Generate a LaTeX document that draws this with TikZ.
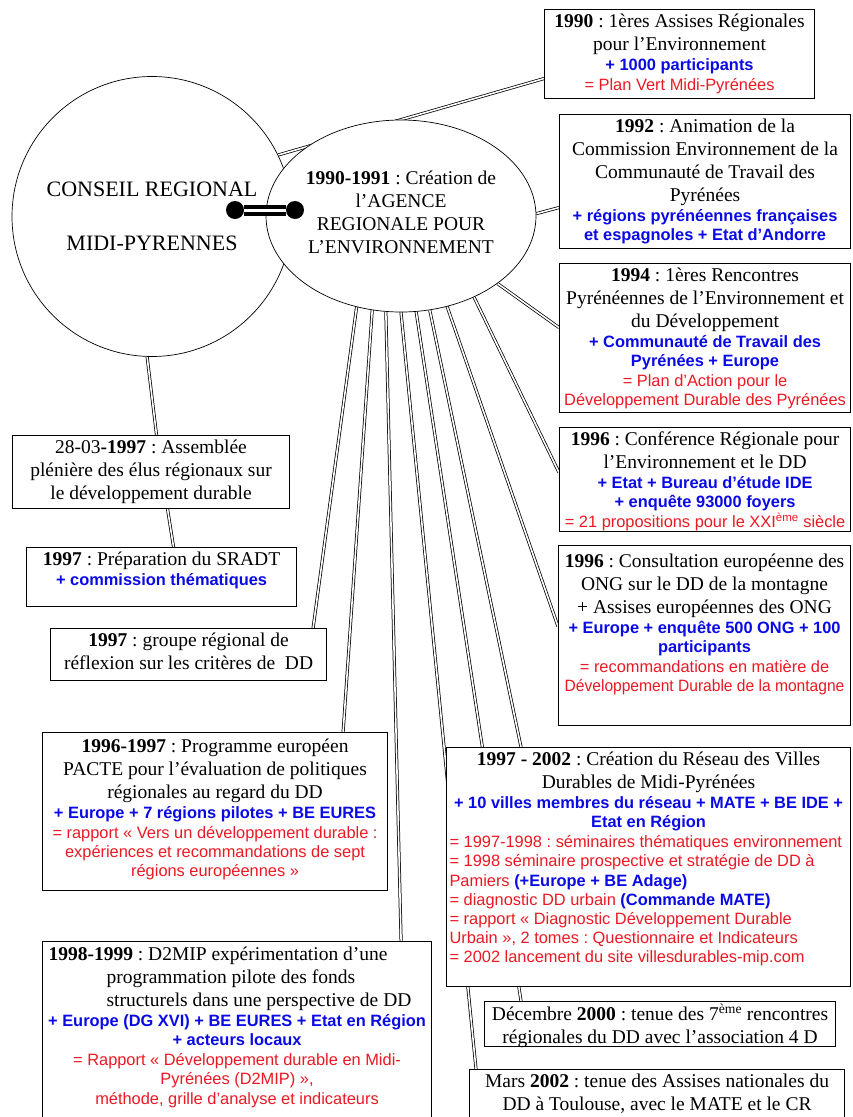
\documentclass[tikz,border=0pt]{standalone}
\usepackage{fontspec}
\setmainfont{Liberation Serif}
\setsansfont{Liberation Sans}
\usetikzlibrary{positioning,shapes,calc}
\definecolor{bleu}{RGB}{10,10,230}
\definecolor{rouge}{RGB}{235,25,35}
\pgfdeclarelayer{fond}
\pgfsetlayers{fond,main}
\frenchspacing
\newcommand{\txtser}{\fontsize{19.5}{23}\selectfont}
\newcommand{\ajout}[1]{{\par\vspace{1pt}\sffamily\bfseries\fontsize{16.4}{19.2}\selectfont\color{bleu}#1\par}}
\newcommand{\resultat}[1]{{\par\vspace{1pt}\sffamily\fontsize{16.4}{19.2}\selectfont\color{rouge}#1\par}}
\newcommand{\contenu}[4][4]{\parbox[t][#3pt][t]{#2pt}{\centering\vspace*{#1pt}#4}}

\begin{document}
\begin{tikzpicture}[x=1pt,y=-1pt,
    boite/.style={draw, fill=white, line width=1.1pt, inner xsep=3pt, inner ysep=0pt, anchor=north west, font=\txtser},
    lien/.style={double, double distance=1.6pt, line width=0.75pt},
    barre/.style={double, double distance=3pt, line width=4pt},
    point/.style={circle, fill=black, minimum size=18pt, inner sep=0pt}]
      \useasboundingbox (0,0) rectangle (852,1117);
      \node (cr) [circle, draw, line width=0.7pt, minimum size=280pt, inner sep=0pt, align=center, font=\fontsize{22}{26}\selectfont] at (152,216.5) {CONSEIL REGIONAL\\[28pt]MIDI-PYRENNES};
      \node (ard) [ellipse, draw, fill=white, line width=0.7pt, minimum width=270pt, minimum height=192pt, inner sep=0pt] at (401,216) {};
      \node (ardtxt) [align=center, font=\txtser] at (401,212) {\textbf{1990-1991} : Création de\\ l’AGENCE\\ REGIONALE POUR\\ L’ENVIRONNEMENT};
      \node (dcr) [point] at (235,210) {};
      \node (dard) [point] at (295,210) {};
      \draw[barre] (dcr) -- (dard);

      \node[boite] (b1990) at (544,9) {\contenu{264}{89}{\textbf{1990} : 1ères Assises Régionales\\ pour l’Environnement\ajout{+ 1000 participants}\resultat{= Plan Vert Midi-Pyrénées}}};
      \node[boite] (b1992) at (559,114) {\contenu{285}{134}{\textbf{1992} : Animation de la\\ Commission Environnement de la\\ Communauté de Travail des\\ Pyrénées\ajout{+ régions pyrénéennes françaises\\ et espagnoles + Etat d’Andorre}}};
      \node[boite] (b1994) at (559,263) {\contenu{285}{149}{\textbf{1994} : 1ères Rencontres\\ \mbox{Pyrénéennes de l’Environnement et}\\ du Développement\ajout{+ Communauté de Travail des\\ Pyrénées + Europe}\resultat{= Plan d’Action pour le\\ \mbox{Développement Durable des Pyrénées}}}};
      \node[boite] (b1996a) at (559,427) {\contenu{285}{104}{\textbf{1996} : Conférence Régionale pour\\ l’Environnement et le DD\ajout{+ Etat + Bureau d’étude IDE\\ + enquête 93000 foyers}\resultat{\mbox{= 21 propositions pour le XXI\textsuperscript{ème} siècle}}}};
      \node[boite] (b1996b) at (558,545) {\contenu[8]{286}{180}{\mbox{\textbf{1996} : Consultation européenne des}\\ ONG sur le DD de la montagne\\ + Assises européennes des ONG\ajout{+ Europe + enquête 500 ONG + 100\\ participants}\resultat{= recommandations en matière de\\ \mbox{\scalebox{0.95}[1]{Développement Durable de la montagne}}}}};
      \node[boite] (b280397) at (12,435) {\contenu{271}{73}{28-03\textbf{-1997} : Assemblée\\ plénière des élus régionaux sur\\ le développement durable}};
      \node[boite] (sradt) at (26,547) {\contenu{264}{59}{\textbf{1997} : Préparation du SRADT\ajout{+ commission thématiques}}};
      \node[boite] (groupe) at (50,628) {\contenu{270}{52}{\textbf{1997} : groupe régional de\\ réflexion sur les critères de~~DD}};
      \node[boite] (pacte) at (42,732) {\contenu[6]{339}{158}{\textbf{1996-1997} : Programme européen\\ PACTE pour l’évaluation de politiques\\ régionales au regard du DD\ajout{+ Europe + 7 régions pilotes + BE EURES}\resultat{= rapport «~Vers un développement durable :\\ expériences et recommandations de sept\\ régions européennes~»}}};
      \node[boite] (b9899) at (42,941) {\contenu[5]{383}{190}{{\raggedright\hspace*{3pt}\textbf{1998-1999} : D2MIP expérimentation d’une\\ \hspace*{61pt}programmation pilote des fonds\\ \hspace*{61pt}structurels dans une perspective de DD\par}\ajout{\mbox{+ Europe (DG XVI) + BE EURES + Etat en Région}\\ + acteurs locaux}\resultat{= Rapport «~Développement durable en Midi-\\ Pyrénées (D2MIP)~»,\\ méthode, grille d’analyse et indicateurs}}};
      \node[boite] (b2000) at (484,1001) {\contenu[2]{345}{45}{\mbox{Décembre \textbf{2000} : tenue des 7\textsuperscript{ème} rencontres}\\ régionales du DD avec l’association 4 D}};
      \node[boite] (b2002) at (469,1069) {\contenu[4]{369}{52}{Mars \textbf{2002} : tenue des Assises nationales du\\ DD à Toulouse, avec le MATE et le CR}};
      \node[boite] (b9702) at (446,747) {\contenu{398}{239}{\textbf{1997 - 2002} : Création du Réseau des Villes\\ Durables de Midi-Pyrénées\ajout{\mbox{+ 10 villes membres du réseau + MATE + BE IDE +}\\ Etat en Région}\resultat{\raggedright \mbox{= 1997-1998 : séminaires thématiques environnement}\\ = 1998 séminaire prospective et stratégie de DD à\\ Pamiers {\bfseries\color{bleu}(+Europe + BE Adage)}\\ = diagnostic DD urbain {\bfseries\color{bleu}(Commande MATE)}\\ = rapport «~Diagnostic Développement Durable\\ Urbain~», 2 tomes : Questionnaire et Indicateurs\\ = 2002 lancement du site villesdurables-mip.com}}};

      \begin{pgfonlayer}{fond}
        \draw[lien] (cr.26) -- ([yshift=-24.5pt]b1990.west);
        \draw[lien] (ard.1) -- ([yshift=-26pt]b1992.west);
        \draw[lien] (ard.-35) -- ([yshift=10.5pt]b1994.west);
        \draw[lien] (ard.-48) -- ([yshift=7pt]b1996a.west);
        \draw[lien] (ard.-63) -- ([yshift=9pt]b1996b.west);
        \draw[lien] (ard.-73) -- ([xshift=75pt]b9702.north west);
        \draw[lien] (ard.-81) -- ([xshift=37pt]b2000.north west);
        \draw[lien] (ard.south) -- ([xshift=7pt]b2002.north west);
        \draw[lien] (ard.-99) -- ([xshift=-31pt]b9899.north east);
        \draw[lien] (ard.-107) -- ([xshift=-45pt]pacte.north east);
        \draw[lien] (ard.-116) -- ([xshift=-14pt]groupe.north east);
        \draw[lien] (cr.-92) -- ([xshift=5.5pt]b280397.north);
        \draw[lien] ([xshift=16.5pt]b280397.south) -- ([xshift=12pt]sradt.north);
      \end{pgfonlayer}
    \end{tikzpicture}
\end{document}
